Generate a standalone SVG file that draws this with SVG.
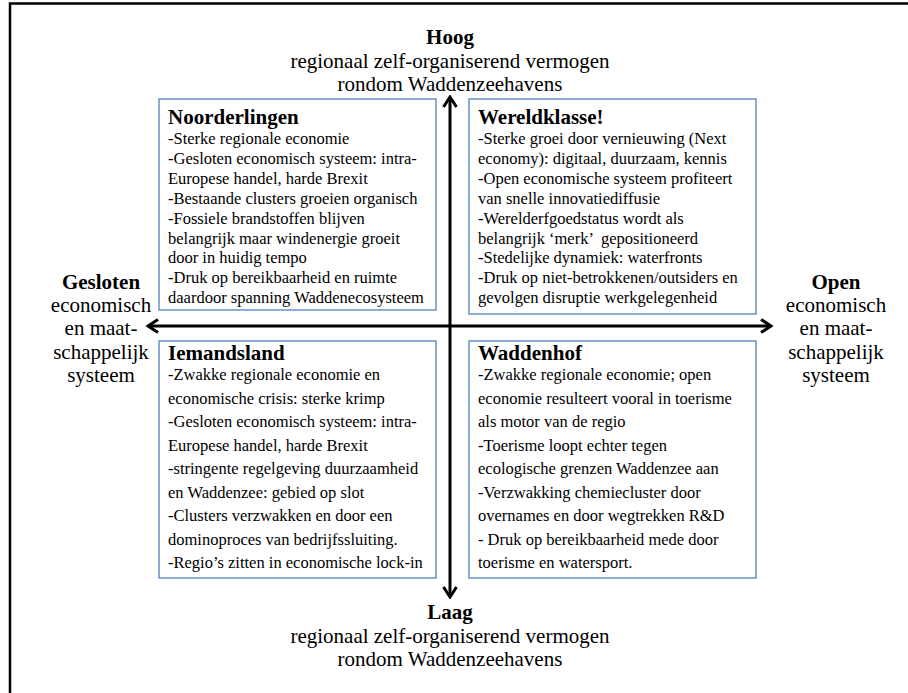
<svg xmlns="http://www.w3.org/2000/svg" width="908" height="693" viewBox="0 0 908 693">
<style>
text{font-family:"Liberation Serif","Times New Roman",serif;fill:#000}
.lbl{font-size:21px;text-anchor:middle}
.b{font-weight:bold}
.ttl{font-size:21px;font-weight:bold}
.body{font-size:16.5px}
.box{fill:#fff;stroke:#4F81BD;stroke-width:1.3}
.axis{fill:none;stroke:#000;stroke-width:3}
</style>
<defs>
<marker id="ah" viewBox="-13 -9 15 18" refX="0" refY="0" markerWidth="15" markerHeight="18" markerUnits="userSpaceOnUse" orient="auto-start-reverse">
<path d="M-10,-6.5 L0,0 L-10,6.5" fill="none" stroke="#000" stroke-width="3"/>
</marker>
</defs>
<rect width="908" height="693" fill="#fff"/>
<g id="frame">
<rect x="10" y="3.5" width="1000" height="1000" fill="none" stroke="#000" stroke-width="2.5"/>
</g>
<g id="connectors">
<line class="axis" x1="450" y1="597" x2="450" y2="97" marker-start="url(#ah)" marker-end="url(#ah)"/>
<line class="axis" x1="148" y1="326" x2="771" y2="326" marker-start="url(#ah)" marker-end="url(#ah)"/>
</g>
<g id="label-top">
<text class="lbl" x="450" y="44"><tspan class="b">Hoog</tspan><tspan x="450" dy="23.5">regionaal zelf-organiserend vermogen</tspan><tspan x="450" dy="23.5">rondom Waddenzeehavens</tspan></text>
</g>
<g id="label-bottom">
<text class="lbl" x="450" y="619"><tspan class="b">Laag</tspan><tspan x="450" dy="23.5">regionaal zelf-organiserend vermogen</tspan><tspan x="450" dy="23.5">rondom Waddenzeehavens</tspan></text>
</g>
<g id="label-left">
<text class="lbl" x="101" y="289"><tspan class="b">Gesloten</tspan><tspan x="101" dy="23.2">economisch</tspan><tspan x="101" dy="23.2">en maat-</tspan><tspan x="101" dy="23.2">schappelijk</tspan><tspan x="101" dy="23.2">systeem</tspan></text>
</g>
<g id="label-right">
<text class="lbl" x="836" y="289"><tspan class="b">Open</tspan><tspan x="836" dy="23.2">economisch</tspan><tspan x="836" dy="23.2">en maat-</tspan><tspan x="836" dy="23.2">schappelijk</tspan><tspan x="836" dy="23.2">systeem</tspan></text>
</g>
<g id="node-noorderlingen">
<rect class="box" x="159" y="99" width="277" height="211"/>
<text class="ttl" x="168" y="124">Noorderlingen</text>
<text class="body" x="168" y="144"><tspan x="168">-Sterke regionale economie</tspan><tspan x="168" dy="19.9">-Gesloten economisch systeem: intra-</tspan><tspan x="168" dy="19.9">Europese handel, harde Brexit</tspan><tspan x="168" dy="19.9">-Bestaande clusters groeien organisch</tspan><tspan x="168" dy="19.9">-Fossiele brandstoffen blijven</tspan><tspan x="168" dy="19.9">belangrijk maar windenergie groeit</tspan><tspan x="168" dy="19.9">door in huidig tempo</tspan><tspan x="168" dy="19.9">-Druk op bereikbaarheid en ruimte</tspan><tspan x="168" dy="19.9">daardoor spanning Waddenecosysteem</tspan></text>
</g>
<g id="node-wereldklasse">
<rect class="box" x="469" y="99" width="287" height="215"/>
<text class="ttl" x="478" y="124">Wereldklasse!</text>
<text class="body" x="478" y="144"><tspan x="478">-Sterke groei door vernieuwing (Next</tspan><tspan x="478" dy="19.9">economy): digitaal, duurzaam, kennis</tspan><tspan x="478" dy="19.9">-Open economische systeem profiteert</tspan><tspan x="478" dy="19.9">van snelle innovatiediffusie</tspan><tspan x="478" dy="19.9">-Werelderfgoedstatus wordt als</tspan><tspan x="478" dy="19.9">belangrijk ‘merk’ &#160;gepositioneerd</tspan><tspan x="478" dy="19.9">-Stedelijke dynamiek: waterfronts</tspan><tspan x="478" dy="19.9">-Druk op niet-betrokkenen/outsiders en</tspan><tspan x="478" dy="19.9">gevolgen disruptie werkgelegenheid</tspan></text>
</g>
<g id="node-iemandsland">
<rect class="box" x="159" y="341" width="277" height="237"/>
<text class="ttl" x="168" y="360">Iemandsland</text>
<text class="body" x="168" y="380"><tspan x="168">-Zwakke regionale economie en</tspan><tspan x="168" dy="23.5">economische crisis: sterke krimp</tspan><tspan x="168" dy="23.5">-Gesloten economisch systeem: intra-</tspan><tspan x="168" dy="23.5">Europese handel, harde Brexit</tspan><tspan x="168" dy="23.5">-stringente regelgeving duurzaamheid</tspan><tspan x="168" dy="23.5">en Waddenzee: gebied op slot</tspan><tspan x="168" dy="23.5">-Clusters verzwakken en door een</tspan><tspan x="168" dy="23.5">dominoproces van bedrijfssluiting.</tspan><tspan x="168" dy="23.5">-Regio’s zitten in economische lock-in</tspan></text>
</g>
<g id="node-waddenhof">
<rect class="box" x="469" y="341" width="287" height="237"/>
<text class="ttl" x="478" y="360">Waddenhof</text>
<text class="body" x="478" y="380"><tspan x="478">-Zwakke regionale economie; open</tspan><tspan x="478" dy="23.5">economie resulteert vooral in toerisme</tspan><tspan x="478" dy="23.5">als motor van de regio</tspan><tspan x="478" dy="23.5">-Toerisme loopt echter tegen</tspan><tspan x="478" dy="23.5">ecologische grenzen Waddenzee aan</tspan><tspan x="478" dy="23.5">-Verzwakking chemiecluster door</tspan><tspan x="478" dy="23.5">overnames en door wegtrekken R&amp;D</tspan><tspan x="478" dy="23.5">- Druk op bereikbaarheid mede door</tspan><tspan x="478" dy="23.5">toerisme en watersport.</tspan></text>
</g>
</svg>
